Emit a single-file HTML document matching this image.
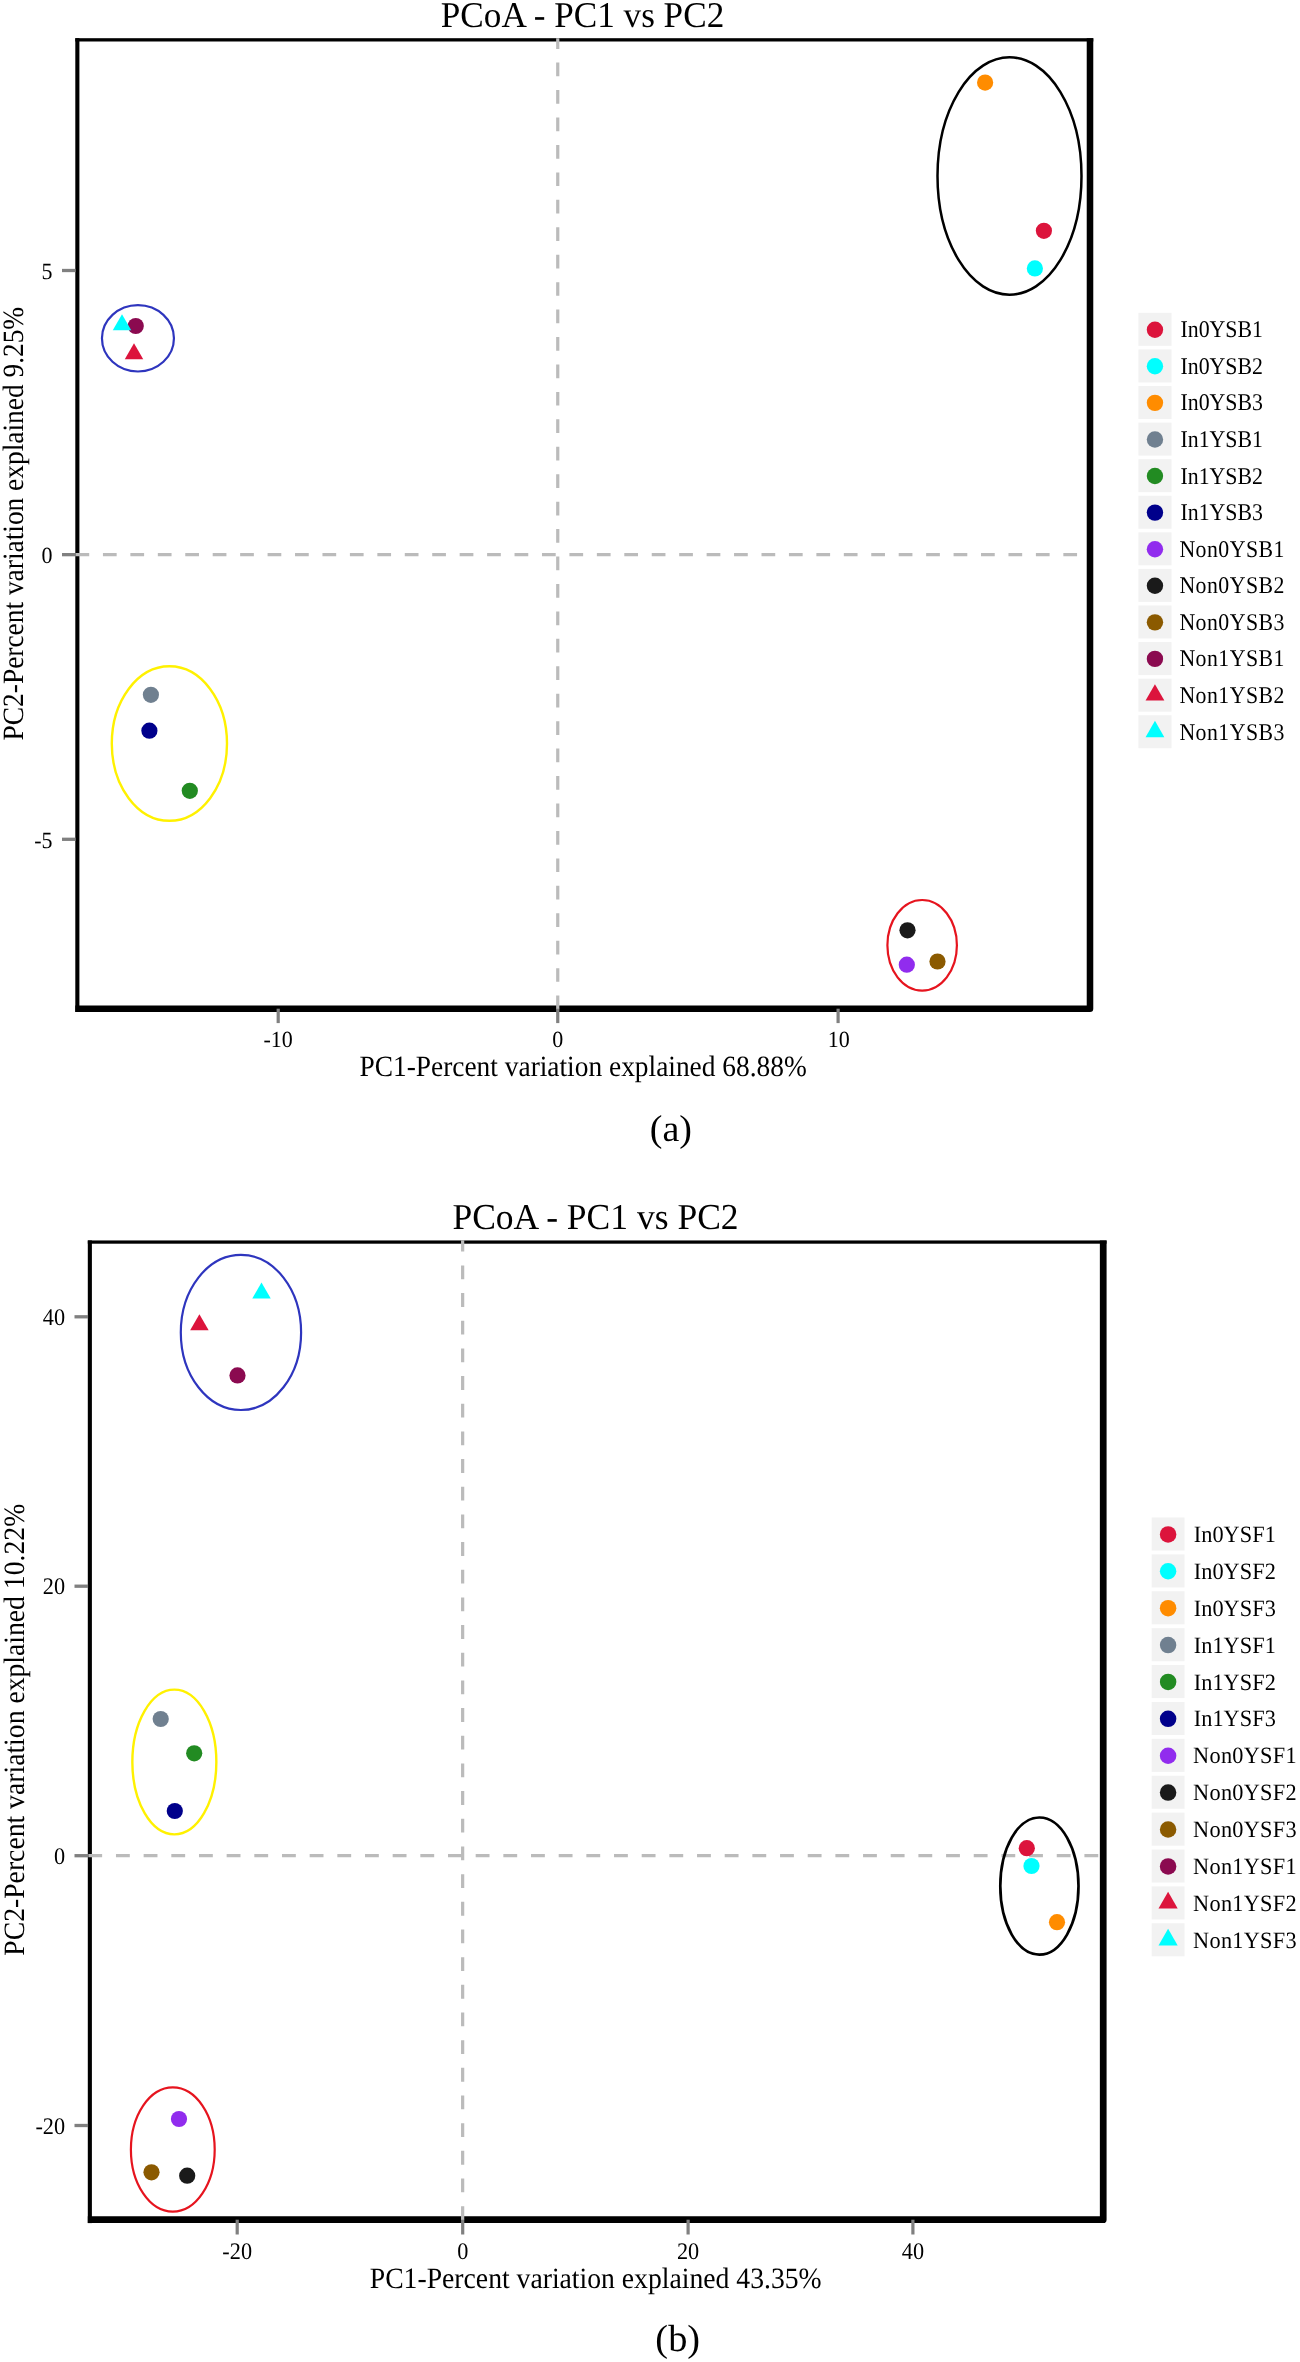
<!DOCTYPE html>
<html><head><meta charset="utf-8"><title>PCoA</title>
<style>html,body{margin:0;padding:0;background:#fff;}body{width:1300px;height:2362px;overflow:hidden;font-family:"Liberation Serif",serif;}svg text{font-family:"Liberation Serif",serif;text-rendering:geometricPrecision;}svg{will-change:transform;}</style>
</head><body>
<svg width="1300" height="2362" viewBox="0 0 1300 2362" style="display:block;font-family:&quot;Liberation Serif&quot;,serif" fill="#000">
<rect width="1300" height="2362" fill="#fff"/>
<rect x="75.3" y="38.2" width="4.1" height="973.75" fill="#000"/>
<rect x="75.3" y="38.2" width="1018.0" height="3.3" fill="#000"/>
<polyline points="1090.0,38.2 1090.0,1008.7 75.3,1008.7" fill="none" stroke="#000" stroke-width="6.55" stroke-linejoin="round"/>
<line x1="75.5" y1="554.65" x2="1090" y2="554.65" stroke="#bbbbbb" stroke-width="3.2" stroke-dasharray="13.72 13.72"/>
<line x1="557.75" y1="1009.3" x2="557.75" y2="38.2" stroke="#bbbbbb" stroke-width="3.2" stroke-dasharray="13.72 13.72"/>
<rect x="62.0" y="268.85" width="13.6" height="3.3" fill="#808080"/>
<text transform="translate(52.599999999999994,278.7) scale(1,1.06)" font-size="22" text-anchor="end" >5</text>
<rect x="62.0" y="553.0" width="13.6" height="3.3" fill="#808080"/>
<text transform="translate(52.599999999999994,562.85) scale(1,1.06)" font-size="22" text-anchor="end" >0</text>
<rect x="62.0" y="837.65" width="13.6" height="3.3" fill="#808080"/>
<text transform="translate(52.599999999999994,847.5) scale(1,1.06)" font-size="22" text-anchor="end" >-5</text>
<rect x="276.59999999999997" y="1008.7" width="3.2" height="14.4" fill="#808080"/>
<text transform="translate(278.2,1046.9) scale(1,1.06)" font-size="22" text-anchor="middle" >-10</text>
<rect x="556.15" y="1008.7" width="3.2" height="14.4" fill="#808080"/>
<text transform="translate(557.75,1046.9) scale(1,1.06)" font-size="22" text-anchor="middle" >0</text>
<rect x="836.5" y="1008.7" width="3.2" height="14.4" fill="#808080"/>
<text transform="translate(838.7,1046.9) scale(1,1.06)" font-size="22" text-anchor="middle" >10</text>
<ellipse cx="1009.5" cy="176" rx="72" ry="118.7" fill="none" stroke="#000000" stroke-width="2.5"/>
<ellipse cx="137.95" cy="338.3" rx="36" ry="33.2" fill="none" stroke="#2E35BE" stroke-width="2.2"/>
<ellipse cx="169.4" cy="743.55" rx="57.6" ry="77.25" fill="none" stroke="#FFF100" stroke-width="2.4"/>
<ellipse cx="922.15" cy="945.3" rx="34.75" ry="45.3" fill="none" stroke="#E6141E" stroke-width="2.2"/>
<circle cx="985.1" cy="82.6" r="8.1" fill="#FF8C00"/>
<circle cx="1043.9" cy="230.8" r="8.1" fill="#DC143C"/>
<circle cx="1034.9" cy="268.4" r="8.1" fill="#00FFFF"/>
<circle cx="135.75" cy="326" r="8.1" fill="#8B0A50"/>
<polygon points="122,314.2 112.75,330.2 131.25,330.2" fill="#00FFFF"/>
<polygon points="134,343.2 124.75,359.2 143.25,359.2" fill="#DC143C"/>
<circle cx="150.9" cy="694.8" r="8.1" fill="#708090"/>
<circle cx="149.4" cy="730.7" r="8.1" fill="#00008B"/>
<circle cx="189.8" cy="790.8" r="8.1" fill="#228B22"/>
<circle cx="907.5" cy="930.3" r="8.1" fill="#1A1A1A"/>
<circle cx="906.8" cy="964.7" r="8.1" fill="#912CEE"/>
<circle cx="937.5" cy="961.5" r="8.1" fill="#8B5A00"/>
<text transform="translate(582.5,27.3) scale(1,1.03)" font-size="35.18" text-anchor="middle" >PCoA - PC1 vs PC2</text>
<text transform="translate(583.1,1076.1) scale(1,1.075)" font-size="27.4" text-anchor="middle" >PC1-Percent variation explained 68.88%</text>
<text transform="translate(23.0,523.6) rotate(-90) scale(1,1.075)" font-size="27.4" text-anchor="middle">PC2-Percent variation explained 9.25%</text>
<rect x="1138.4" y="312.85" width="33.1" height="33.0" fill="#f2f2f2"/>
<circle cx="1154.95" cy="329.7" r="8.2" fill="#DC143C"/>
<text transform="translate(1180.4,337.25) scale(1,1.1)" font-size="21.8" text-anchor="start" textLength="82.6" lengthAdjust="spacing">In0YSB1</text>
<rect x="1138.4" y="349.43" width="33.1" height="33.0" fill="#f2f2f2"/>
<circle cx="1154.95" cy="366.28" r="8.2" fill="#00FFFF"/>
<text transform="translate(1180.4,373.83) scale(1,1.1)" font-size="21.8" text-anchor="start" textLength="82.6" lengthAdjust="spacing">In0YSB2</text>
<rect x="1138.4" y="386.01" width="33.1" height="33.0" fill="#f2f2f2"/>
<circle cx="1154.95" cy="402.86" r="8.2" fill="#FF8C00"/>
<text transform="translate(1180.4,410.41) scale(1,1.1)" font-size="21.8" text-anchor="start" textLength="82.6" lengthAdjust="spacing">In0YSB3</text>
<rect x="1138.4" y="422.59" width="33.1" height="33.0" fill="#f2f2f2"/>
<circle cx="1154.95" cy="439.44" r="8.2" fill="#708090"/>
<text transform="translate(1180.4,446.99) scale(1,1.1)" font-size="21.8" text-anchor="start" textLength="82.6" lengthAdjust="spacing">In1YSB1</text>
<rect x="1138.4" y="459.17" width="33.1" height="33.0" fill="#f2f2f2"/>
<circle cx="1154.95" cy="476.02" r="8.2" fill="#228B22"/>
<text transform="translate(1180.4,483.57) scale(1,1.1)" font-size="21.8" text-anchor="start" textLength="82.6" lengthAdjust="spacing">In1YSB2</text>
<rect x="1138.4" y="495.75" width="33.1" height="33.0" fill="#f2f2f2"/>
<circle cx="1154.95" cy="512.6" r="8.2" fill="#00008B"/>
<text transform="translate(1180.4,520.15) scale(1,1.1)" font-size="21.8" text-anchor="start" textLength="82.6" lengthAdjust="spacing">In1YSB3</text>
<rect x="1138.4" y="532.33" width="33.1" height="33.0" fill="#f2f2f2"/>
<circle cx="1154.95" cy="549.18" r="8.2" fill="#912CEE"/>
<text transform="translate(1179.4,556.73) scale(1,1.1)" font-size="21.8" text-anchor="start" textLength="105.0" lengthAdjust="spacing">Non0YSB1</text>
<rect x="1138.4" y="568.91" width="33.1" height="33.0" fill="#f2f2f2"/>
<circle cx="1154.95" cy="585.76" r="8.2" fill="#1A1A1A"/>
<text transform="translate(1179.4,593.31) scale(1,1.1)" font-size="21.8" text-anchor="start" textLength="105.0" lengthAdjust="spacing">Non0YSB2</text>
<rect x="1138.4" y="605.49" width="33.1" height="33.0" fill="#f2f2f2"/>
<circle cx="1154.95" cy="622.34" r="8.2" fill="#8B5A00"/>
<text transform="translate(1179.4,629.89) scale(1,1.1)" font-size="21.8" text-anchor="start" textLength="105.0" lengthAdjust="spacing">Non0YSB3</text>
<rect x="1138.4" y="642.07" width="33.1" height="33.0" fill="#f2f2f2"/>
<circle cx="1154.95" cy="658.92" r="8.2" fill="#8B0A50"/>
<text transform="translate(1179.4,666.47) scale(1,1.1)" font-size="21.8" text-anchor="start" textLength="105.0" lengthAdjust="spacing">Non1YSB1</text>
<rect x="1138.4" y="678.65" width="33.1" height="33.0" fill="#f2f2f2"/>
<polygon points="1154.95,684.22 1145.55,700.62 1164.3500000000001,700.62" fill="#DC143C"/>
<text transform="translate(1179.4,703.05) scale(1,1.1)" font-size="21.8" text-anchor="start" textLength="105.0" lengthAdjust="spacing">Non1YSB2</text>
<rect x="1138.4" y="715.23" width="33.1" height="33.0" fill="#f2f2f2"/>
<polygon points="1154.95,720.8 1145.55,737.1999999999999 1164.3500000000001,737.1999999999999" fill="#00FFFF"/>
<text transform="translate(1179.4,739.63) scale(1,1.1)" font-size="21.8" text-anchor="start" textLength="105.0" lengthAdjust="spacing">Non1YSB3</text>
<text transform="translate(670.9,1140.8) scale(1,0.985)" font-size="38" text-anchor="middle" >(a)</text>
<rect x="87.8" y="1240.45" width="4.1" height="982.6499999999999" fill="#000"/>
<rect x="87.8" y="1240.45" width="1018.75" height="3.25" fill="#000"/>
<polyline points="1103.225,1240.45 1103.225,2219.7 87.8,2219.7" fill="none" stroke="#000" stroke-width="6.725" stroke-linejoin="round"/>
<line x1="88.3" y1="1855.7" x2="1103.4" y2="1855.7" stroke="#bbbbbb" stroke-width="3.2" stroke-dasharray="13.835 13.835"/>
<line x1="462.65" y1="2220" x2="462.65" y2="1240.2" stroke="#bbbbbb" stroke-width="3.2" stroke-dasharray="13.835 13.835"/>
<rect x="74.5" y="1315.1499999999999" width="13.6" height="3.3" fill="#808080"/>
<text transform="translate(65.1,1325.0) scale(1,1.07)" font-size="22.26" text-anchor="end" >40</text>
<rect x="74.5" y="1584.55" width="13.6" height="3.3" fill="#808080"/>
<text transform="translate(65.1,1594.4) scale(1,1.07)" font-size="22.26" text-anchor="end" >20</text>
<rect x="74.5" y="1854.05" width="13.6" height="3.3" fill="#808080"/>
<text transform="translate(65.1,1863.9) scale(1,1.07)" font-size="22.26" text-anchor="end" >0</text>
<rect x="74.5" y="2123.85" width="13.6" height="3.3" fill="#808080"/>
<text transform="translate(65.1,2133.7) scale(1,1.07)" font-size="22.26" text-anchor="end" >-20</text>
<rect x="235.6" y="2219.7" width="3.2" height="14.8" fill="#808080"/>
<text transform="translate(237.2,2258.9) scale(1,1.07)" font-size="22.26" text-anchor="middle" >-20</text>
<rect x="461.09999999999997" y="2219.7" width="3.2" height="14.8" fill="#808080"/>
<text transform="translate(462.7,2258.9) scale(1,1.07)" font-size="22.26" text-anchor="middle" >0</text>
<rect x="686.5" y="2219.7" width="3.2" height="14.8" fill="#808080"/>
<text transform="translate(688.1,2258.9) scale(1,1.07)" font-size="22.26" text-anchor="middle" >20</text>
<rect x="911.3" y="2219.7" width="3.2" height="14.8" fill="#808080"/>
<text transform="translate(912.9,2258.9) scale(1,1.07)" font-size="22.26" text-anchor="middle" >40</text>
<ellipse cx="240.95" cy="1332.45" rx="60.15" ry="77.55" fill="none" stroke="#2E35BE" stroke-width="2.2"/>
<ellipse cx="174.35" cy="1762" rx="42" ry="72.4" fill="none" stroke="#FFF100" stroke-width="2.4"/>
<ellipse cx="172.8" cy="2149.5" rx="41.9" ry="62.2" fill="none" stroke="#E6141E" stroke-width="2.2"/>
<ellipse cx="1039.4" cy="1886.1" rx="39.1" ry="68.6" fill="none" stroke="#000000" stroke-width="2.7"/>
<polygon points="261.5,1282.5 252.25,1298.5 270.75,1298.5" fill="#00FFFF"/>
<polygon points="199.4,1314.2 190.15,1330.2 208.65,1330.2" fill="#DC143C"/>
<circle cx="237.5" cy="1375.4" r="8.1" fill="#8B0A50"/>
<circle cx="160.7" cy="1719" r="8.1" fill="#708090"/>
<circle cx="194.2" cy="1753.3" r="8.1" fill="#228B22"/>
<circle cx="174.8" cy="1811" r="8.1" fill="#00008B"/>
<circle cx="179" cy="2119" r="8.1" fill="#912CEE"/>
<circle cx="151.5" cy="2172.3" r="8.1" fill="#8B5A00"/>
<circle cx="187.2" cy="2175.7" r="8.1" fill="#1A1A1A"/>
<circle cx="1026.8" cy="1848.2" r="8.1" fill="#DC143C"/>
<circle cx="1031.5" cy="1866" r="8.1" fill="#00FFFF"/>
<circle cx="1057" cy="1922.2" r="8.1" fill="#FF8C00"/>
<text transform="translate(595.5,1228.5) scale(1,1.026)" font-size="35.52" text-anchor="middle" >PCoA - PC1 vs PC2</text>
<text transform="translate(595.7,2288.4) scale(1,1.065)" font-size="27.68" text-anchor="middle" >PC1-Percent variation explained 43.35%</text>
<text transform="translate(23.6,1729.75) rotate(-90) scale(1,1.065)" font-size="27.68" text-anchor="middle">PC2-Percent variation explained 10.22%</text>
<rect x="1151.65" y="1517.5" width="32.9" height="33.05" fill="#f2f2f2"/>
<circle cx="1168.1000000000001" cy="1534.38" r="8.25" fill="#DC143C"/>
<text transform="translate(1193.7,1542.03) scale(1,1.05)" font-size="22.3" text-anchor="start" textLength="82.2" lengthAdjust="spacing">In0YSF1</text>
<rect x="1151.65" y="1554.39" width="32.9" height="33.05" fill="#f2f2f2"/>
<circle cx="1168.1000000000001" cy="1571.27" r="8.25" fill="#00FFFF"/>
<text transform="translate(1193.7,1578.92) scale(1,1.05)" font-size="22.3" text-anchor="start" textLength="82.2" lengthAdjust="spacing">In0YSF2</text>
<rect x="1151.65" y="1591.28" width="32.9" height="33.05" fill="#f2f2f2"/>
<circle cx="1168.1000000000001" cy="1608.16" r="8.25" fill="#FF8C00"/>
<text transform="translate(1193.7,1615.81) scale(1,1.05)" font-size="22.3" text-anchor="start" textLength="82.2" lengthAdjust="spacing">In0YSF3</text>
<rect x="1151.65" y="1628.17" width="32.9" height="33.05" fill="#f2f2f2"/>
<circle cx="1168.1000000000001" cy="1645.05" r="8.25" fill="#708090"/>
<text transform="translate(1193.7,1652.7) scale(1,1.05)" font-size="22.3" text-anchor="start" textLength="82.2" lengthAdjust="spacing">In1YSF1</text>
<rect x="1151.65" y="1665.06" width="32.9" height="33.05" fill="#f2f2f2"/>
<circle cx="1168.1000000000001" cy="1681.94" r="8.25" fill="#228B22"/>
<text transform="translate(1193.7,1689.59) scale(1,1.05)" font-size="22.3" text-anchor="start" textLength="82.2" lengthAdjust="spacing">In1YSF2</text>
<rect x="1151.65" y="1701.95" width="32.9" height="33.05" fill="#f2f2f2"/>
<circle cx="1168.1000000000001" cy="1718.83" r="8.25" fill="#00008B"/>
<text transform="translate(1193.7,1726.48) scale(1,1.05)" font-size="22.3" text-anchor="start" textLength="82.2" lengthAdjust="spacing">In1YSF3</text>
<rect x="1151.65" y="1738.84" width="32.9" height="33.05" fill="#f2f2f2"/>
<circle cx="1168.1000000000001" cy="1755.72" r="8.25" fill="#912CEE"/>
<text transform="translate(1193.1000000000001,1763.37) scale(1,1.05)" font-size="22.3" text-anchor="start" textLength="103.5" lengthAdjust="spacing">Non0YSF1</text>
<rect x="1151.65" y="1775.73" width="32.9" height="33.05" fill="#f2f2f2"/>
<circle cx="1168.1000000000001" cy="1792.61" r="8.25" fill="#1A1A1A"/>
<text transform="translate(1193.1000000000001,1800.26) scale(1,1.05)" font-size="22.3" text-anchor="start" textLength="103.5" lengthAdjust="spacing">Non0YSF2</text>
<rect x="1151.65" y="1812.62" width="32.9" height="33.05" fill="#f2f2f2"/>
<circle cx="1168.1000000000001" cy="1829.49" r="8.25" fill="#8B5A00"/>
<text transform="translate(1193.1000000000001,1837.14) scale(1,1.05)" font-size="22.3" text-anchor="start" textLength="103.5" lengthAdjust="spacing">Non0YSF3</text>
<rect x="1151.65" y="1849.51" width="32.9" height="33.05" fill="#f2f2f2"/>
<circle cx="1168.1000000000001" cy="1866.39" r="8.25" fill="#8B0A50"/>
<text transform="translate(1193.1000000000001,1874.04) scale(1,1.05)" font-size="22.3" text-anchor="start" textLength="103.5" lengthAdjust="spacing">Non1YSF1</text>
<rect x="1151.65" y="1886.4" width="32.9" height="33.05" fill="#f2f2f2"/>
<polygon points="1168.1000000000001,1891.8 1158.5000000000002,1908.5 1177.7,1908.5" fill="#DC143C"/>
<text transform="translate(1193.1000000000001,1910.93) scale(1,1.05)" font-size="22.3" text-anchor="start" textLength="103.5" lengthAdjust="spacing">Non1YSF2</text>
<rect x="1151.65" y="1923.29" width="32.9" height="33.05" fill="#f2f2f2"/>
<polygon points="1168.1000000000001,1928.69 1158.5000000000002,1945.39 1177.7,1945.39" fill="#00FFFF"/>
<text transform="translate(1193.1000000000001,1947.82) scale(1,1.05)" font-size="22.3" text-anchor="start" textLength="103.5" lengthAdjust="spacing">Non1YSF3</text>
<text transform="translate(677.7,2351.3) scale(1,0.985)" font-size="38.3" text-anchor="middle" >(b)</text>
</svg>
</body></html>
